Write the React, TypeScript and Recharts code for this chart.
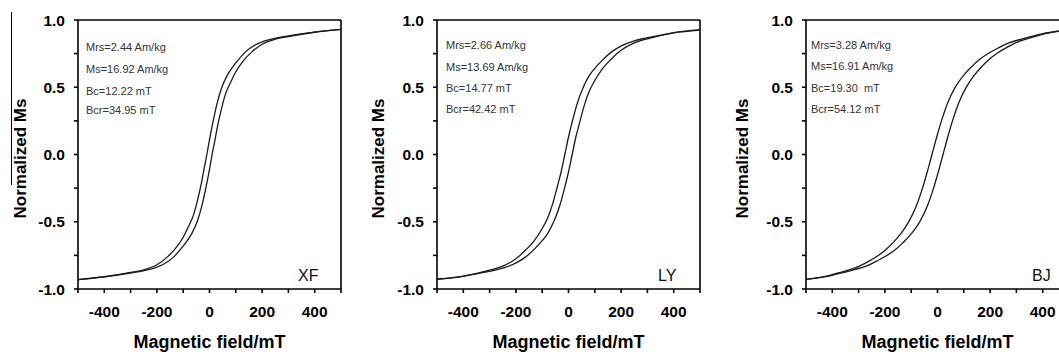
import React from 'react';
import { LineChart, Line, XAxis, YAxis, ReferenceLine, Label } from 'recharts';

// Field (mT) / normalized moment pairs
const xfUpper = [[-500,-0.93],[-400,-0.909],[-300,-0.877],[-250,-0.857],[-200,-0.82],[-160,-0.761],[-130,-0.7],[-100,-0.615],[-80,-0.535],[-60,-0.445],[-45,-0.335],[-30,-0.205],[-20,-0.1],[-10,0],[0,0.11],[14,0.25],[30,0.39],[46,0.495],[68,0.59],[88,0.65],[108,0.7],[138,0.765],[170,0.81],[210,0.845],[252,0.865],[295,0.88],[400,0.91],[500,0.93]];
const xfLower = [[-500,-0.93],[-400,-0.91],[-295,-0.88],[-252,-0.865],[-210,-0.845],[-170,-0.81],[-138,-0.765],[-108,-0.7],[-88,-0.65],[-68,-0.59],[-46,-0.495],[-30,-0.39],[-14,-0.25],[0,-0.11],[10,0],[20,0.1],[30,0.205],[45,0.335],[60,0.445],[80,0.535],[100,0.615],[130,0.7],[160,0.761],[200,0.82],[250,0.857],[300,0.877],[400,0.909],[500,0.93]];

const lyUpper = [[-500,-0.925],[-400,-0.904],[-300,-0.86],[-250,-0.83],[-200,-0.775],[-160,-0.705],[-130,-0.64],[-100,-0.55],[-80,-0.475],[-60,-0.365],[-40,-0.22],[-28,-0.13],[-14,0],[0,0.13],[15,0.25],[34,0.385],[55,0.495],[80,0.59],[104,0.65],[128,0.7],[165,0.765],[203,0.81],[250,0.845],[292,0.865],[346,0.885],[400,0.906],[500,0.928]];
const lyLower = [[-500,-0.928],[-400,-0.906],[-346,-0.885],[-292,-0.865],[-250,-0.845],[-203,-0.81],[-165,-0.765],[-128,-0.7],[-104,-0.65],[-80,-0.59],[-55,-0.495],[-34,-0.385],[-15,-0.25],[0,-0.13],[14,0],[28,0.13],[40,0.22],[60,0.365],[80,0.475],[100,0.55],[130,0.64],[160,0.705],[200,0.775],[250,0.83],[300,0.86],[400,0.904],[500,0.925]];

const bjUpper = [[-500,-0.928],[-410,-0.898],[-372,-0.878],[-334,-0.856],[-297,-0.83],[-262,-0.795],[-228,-0.755],[-198,-0.71],[-169,-0.655],[-140,-0.59],[-108,-0.495],[-81,-0.385],[-57,-0.25],[-39,-0.13],[-21,0],[-3,0.13],[15,0.25],[39,0.385],[66,0.495],[100,0.59],[131,0.655],[162,0.71],[196,0.755],[234,0.795],[271,0.83],[316,0.856],[358,0.878],[400,0.898],[500,0.928]];
const bjLower = [[-500,-0.928],[-400,-0.898],[-358,-0.878],[-316,-0.856],[-271,-0.83],[-234,-0.795],[-196,-0.755],[-162,-0.71],[-131,-0.655],[-100,-0.59],[-66,-0.495],[-39,-0.385],[-15,-0.25],[3,-0.13],[21,0],[39,0.13],[57,0.25],[81,0.385],[108,0.495],[140,0.59],[169,0.655],[198,0.71],[228,0.755],[262,0.795],[297,0.83],[334,0.856],[372,0.878],[410,0.898],[500,0.928]];

const xTicks = [-500, -400, -300, -200, -100, 0, 100, 200, 300, 400, 500];
const xLabeled = [-400, -200, 0, 200, 400];
const yTicks = [-1, -0.75, -0.5, -0.25, 0, 0.25, 0.5, 0.75, 1];
const yLabeled = [-1, -0.5, 0, 0.5, 1];

const samples = ['XF', 'LY', 'BJ'];
const infoXF = ['Mrs=2.44 Am/kg', 'Ms=16.92 Am/kg', 'Bc=12.22 mT', 'Bcr=34.95 mT'];
const infoLY = ['Mrs=2.66 Am/kg', 'Ms=13.69 Am/kg', 'Bc=14.77 mT', 'Bcr=42.42 mT'];
const infoBJ = ['Mrs=3.28 Am/kg', 'Ms=16.91 Am/kg', 'Bc=19.30  mT', 'Bcr=54.12 mT'];

const toPts = (arr: number[][]) => arr.map(([x, y]) => ({ x, y }));

const FONT = '"Liberation Sans", Arial, sans-serif';

type PanelProps = {
  left: number;
  upper: number[][];
  lower: number[][];
  name: string;
  info: string[];
  infoX: number;
  infoY: number[];
  nameX: number;
  yTitleDx: number;
};

function Panel(p: PanelProps) {
  return (
    <div style={{ position: 'absolute', left: p.left, top: 0, width: 350, height: 361 }}>
      <LineChart width={350} height={361} margin={{ top: 20, right: 9, bottom: 0, left: 0 }}>
        <XAxis
          type="number"
          dataKey="x"
          domain={[-500, 500]}
          ticks={xTicks}
          interval={0}
          allowDataOverflow
          height={72}
          tickSize={4}
          tickMargin={13}
          stroke="#000"
          strokeWidth={1.6}
          tick={{ fill: '#000', fontSize: 15.5, fontWeight: 700, fontFamily: FONT }}
          tickFormatter={(v: number) => (xLabeled.includes(v) ? String(v) : '')}
        >
          <Label
            value="Magnetic field/mT"
            position="insideBottom"
            offset={13}
            style={{ fill: '#000', fontSize: 18, fontWeight: 700, fontFamily: FONT }}
          />
        </XAxis>
        <YAxis
          type="number"
          domain={[-1, 1]}
          ticks={yTicks}
          interval={0}
          allowDataOverflow
          width={78}
          tickSize={4}
          tickMargin={9}
          stroke="#000"
          strokeWidth={1.6}
          tick={{ fill: '#000', fontSize: 15.5, fontWeight: 700, fontFamily: FONT }}
          tickFormatter={(v: number) => (yLabeled.includes(v) ? v.toFixed(1) : '')}
        >
          <Label
            value="Normalized Ms"
            position="center"
            angle={-90}
            dx={p.yTitleDx}
            dy={4}
            style={{ fill: '#000', fontSize: 17, fontWeight: 700, fontFamily: FONT }}
          />
        </YAxis>
        <ReferenceLine y={1} stroke="#000" strokeWidth={1.6} ifOverflow="visible" />
        <ReferenceLine x={500} stroke="#000" strokeWidth={1.6} ifOverflow="visible" />
        <Line
          data={toPts(p.upper)}
          dataKey="y"
          type="monotone"
          stroke="#1a1a1a"
          strokeWidth={1.3}
          dot={false}
          isAnimationActive={false}
        />
        <Line
          data={toPts(p.lower)}
          dataKey="y"
          type="monotone"
          stroke="#1a1a1a"
          strokeWidth={1.3}
          dot={false}
          isAnimationActive={false}
        />
      </LineChart>
      {p.info.map((t, i) => (
        <div
          key={t}
          style={{
            position: 'absolute',
            left: p.infoX,
            top: p.infoY[i] - 7,
            fontFamily: FONT,
            fontSize: 11,
            lineHeight: '14px',
            color: '#333',
            whiteSpace: 'pre',
          }}
        >
          {t}
        </div>
      ))}
      <div
        style={{
          position: 'absolute',
          left: p.nameX,
          top: 276 - 10,
          fontFamily: FONT,
          fontSize: 16,
          lineHeight: '20px',
          color: '#111',
        }}
      >
        {p.name}
      </div>
    </div>
  );
}

export default function App() {
  return (
    <div
      style={{
        position: 'absolute',
        left: 0,
        top: 0,
        width: 1059,
        height: 361,
        overflow: 'hidden',
        background: '#fff',
      }}
    >
      <div style={{ position: 'absolute', left: 11, top: 12, width: 1, height: 173, background: '#000' }} />
      <Panel
        left={0}
        upper={xfUpper}
        lower={xfLower}
        name={samples[0]}
        info={infoXF}
        infoX={86}
        infoY={[46.5, 69, 91, 110]}
        nameX={298}
        yTitleDx={-19}
      />
      <Panel
        left={359}
        upper={lyUpper}
        lower={lyLower}
        name={samples[1]}
        info={infoLY}
        infoX={87}
        infoY={[45, 66.5, 88, 108.5]}
        nameX={299}
        yTitleDx={-20}
      />
      <Panel
        left={728}
        upper={bjUpper}
        lower={bjLower}
        name={samples[2]}
        info={infoBJ}
        infoX={83}
        infoY={[45, 66, 87.5, 108.5]}
        nameX={304}
        yTitleDx={-25}
      />
    </div>
  );
}
